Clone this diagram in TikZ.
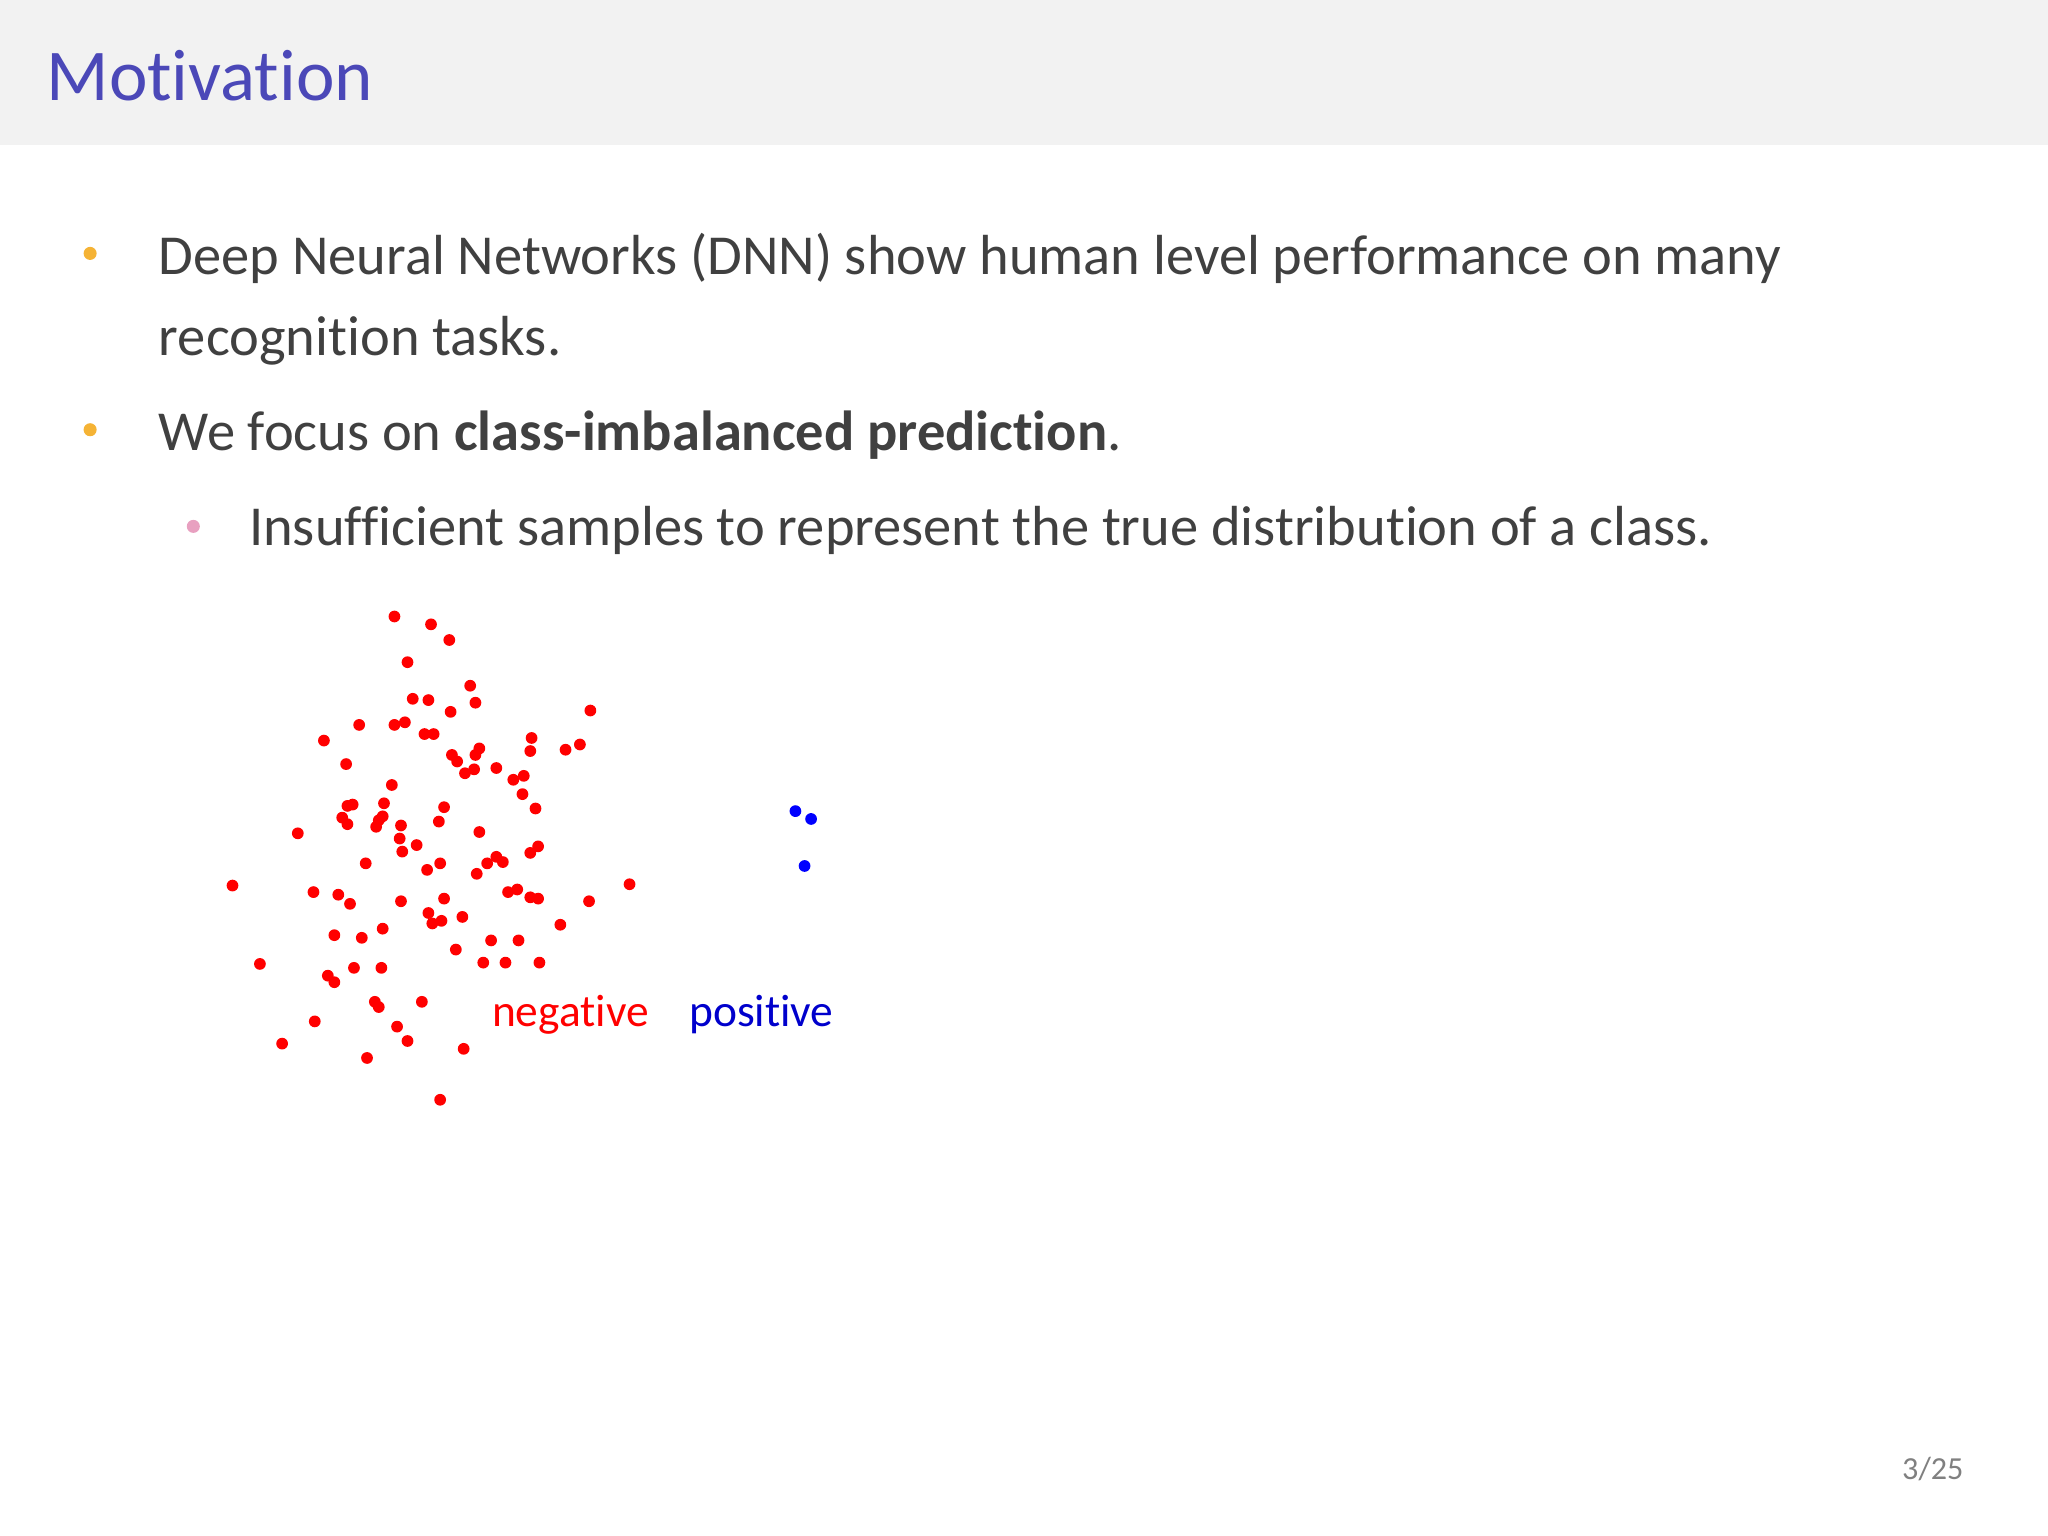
\documentclass[tikz,border=0pt]{standalone}
\usepackage{fontspec}
\setmainfont[Ligatures={NoCommon}]{Carlito}
\definecolor{hdr}{HTML}{F2F2F2}
\definecolor{ttl}{HTML}{4B48B8}
\definecolor{txt}{HTML}{404040}
\definecolor{orb}{HTML}{F5B335}
\definecolor{pkb}{HTML}{E8A0C0}
\begin{document}
\begin{tikzpicture}[x=0.1mm,y=-0.1mm,
  tx/.style={anchor=base west,inner sep=0,text=txt,font=\fontsize{12.3pt}{15pt}\selectfont},
  rd/.style={fill=red},bd/.style={fill=blue}]
\useasboundingbox (0,0) rectangle (1568,1176);
\fill[hdr] (0,0) rectangle (1568,111);
\node[anchor=base west,inner sep=0,text=ttl,font=\fontsize{15.9pt}{19pt}\selectfont] (title) at (35,77) {Motivation};
\fill[orb] (69,194) circle (5);
\fill[orb] (69,329) circle (5);
\fill[pkb] (148,403) circle (5);
\node[tx] (l1) at (121,210) {Deep Neural Networks (DNN) show human level performance on many};
\node[tx] (l2) at (121,272) {recognition tasks.};
\node[tx] (l3) at (121,345) {We focus on \textbf{class-imbalanced prediction}.};
\node[tx] (l4) at (190,418) {Insufficient samples to represent the true distribution of a class.};
\foreach \x/\y in {302/472,330/478,344/490,312/507,360/525,452/544,316/535,328/536,364/538,345/545,275/555,302/555,310/553,325/562,332/562,248/567,407/565,406/575,367/573,364/578,346/578,350/583,433/574,444/570,265/585,363/589,380/588,393/597,401/594,356/592,300/601,400/608,270/616,266/617,294/615,340/618,410/619,262/626,266/631,290/628,293/625,307/632,336/629,288/633,228/638,367/637,306/642,319/647,308/652,412/648,406/653,380/656,385/660,373/661,365/669,337/661,327/666,280/661,178/678,240/683,259/685,268/692,307/690,340/688,389/683,396/681,406/687,412/688,451/690,482/677,328/699,331/707,338/705,354/702,293/711,256/716,277/718,376/720,397/720,429/708,349/727,199/738,271/741,292/741,370/737,387/737,413/737,251/747,256/752,287/767,290/771,323/767,241/782,304/786,312/797,216/799,355/803,281/810,337/842}
  \fill[rd] (\x,\y) circle (4.5);
\foreach \x/\y in {609/621,621/627,616/663}
  \fill[bd] (\x,\y) circle (4.5);
\node[anchor=base west,inner sep=0,text=red,font=\fontsize{9.9pt}{11pt}\selectfont] (neg) at (376,786) {negative};
\node[anchor=base west,inner sep=0,text=blue!80!black,font=\fontsize{9.9pt}{11pt}\selectfont] (pos) at (527,786) {positive};
\node[anchor=base east,inner sep=0,text=gray,font=\fontsize{7pt}{8pt}\selectfont] (pg) at (1504,1133) {3/25};
\end{tikzpicture}
\end{document}
